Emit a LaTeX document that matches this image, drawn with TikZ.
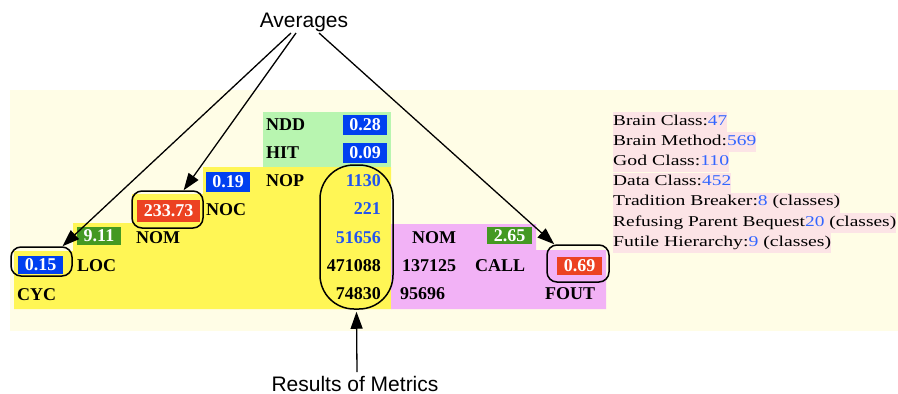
\documentclass[tikz,border=0pt]{standalone}
\usepackage{fontspec}
\setmainfont{Liberation Serif}
\newfontfamily\sansf{Liberation Sans}
\newfontfamily\panelf{Liberation Serif}
\usetikzlibrary{arrows.meta}
\definecolor{pale}{RGB}{255,253,230}
\definecolor{yel}{RGB}{255,246,85}
\definecolor{lgreen}{RGB}{184,245,176}
\definecolor{pinkbg}{RGB}{242,178,246}
\definecolor{boxblue}{RGB}{0,64,240}
\definecolor{boxred}{RGB}{236,66,34}
\definecolor{boxgreen}{RGB}{68,153,34}
\definecolor{tblue}{RGB}{34,85,238}
\definecolor{panelpink}{RGB}{252,228,230}
\definecolor{pblue}{RGB}{51,102,255}
\newcommand{\fitw}[2]{\resizebox{#1}{\height}{#2}}
\tikzset{
  lbl/.style={anchor=base west, inner sep=0pt, font=\fontsize{18}{18}\selectfont\bfseries},
  num/.style={anchor=base east, inner sep=0pt, font=\fontsize{18}{18}\selectfont\bfseries},
  valbox/.style={inner sep=0pt, text=white, font=\fontsize{18}{18}\selectfont\bfseries},
  frame/.style={draw=black, line width=1.5pt, rounded corners=10pt, inner sep=0pt},
  pline/.style={anchor=base west, inner sep=0pt, fill=panelpink, text height=13pt, text depth=7pt, font=\fontsize{15}{15}\panelf},
  arr/.style={line width=1.3pt, -{Triangle[length=17pt,width=12pt]}},
  call/.style={font=\fontsize{21}{21}\sansf, inner sep=0pt}
}
\begin{document}
\begin{tikzpicture}[x=1pt,y=-1pt]
\useasboundingbox (0,0) rectangle (898,394);
% backgrounds
\fill[pale] (10,90) rectangle (898,331);
\fill[yel] (14,309) -- (14,251) -- (73,251) -- (73,223) -- (132,223) -- (132,194) -- (203,194) -- (203,167) -- (391,167) -- (391,309) -- cycle;
\fill[lgreen] (263,112) rectangle (391,167);
\fill[pinkbg] (391,224) -- (536,224) -- (536,250) -- (606,250) -- (606,309) -- (391,309) -- cycle;
% value boxes
\node[valbox, fill=boxblue, minimum width=44pt, minimum height=20pt] (v028) at (365,125) {0.28};
\node[valbox, fill=boxblue, minimum width=44pt, minimum height=20pt] (v009) at (365,153) {0.09};
\node[valbox, fill=boxblue, minimum width=44pt, minimum height=20pt] (v019) at (228,182) {0.19};
\node[valbox, fill=boxred, minimum width=63pt, minimum height=22pt] (v23373) at (168.5,210.5) {233.73};
\node[valbox, fill=boxgreen, minimum width=44pt, minimum height=18pt] (v911) at (99,236) {9.11};
\node[valbox, fill=boxblue, minimum width=45pt, minimum height=18pt] (v015) at (40.5,264.5) {0.15};
\node[valbox, fill=boxgreen, minimum width=45pt, minimum height=17pt] (v265) at (509.5,235.5) {2.65};
\node[valbox, fill=boxred, minimum width=45pt, minimum height=18pt] (v069) at (579.5,265.5) {0.69};
% labels
\node[lbl] (ndd) at (266,130) {NDD};
\node[lbl] (hit) at (266,158) {HIT};
\node[lbl] (nop) at (266,186) {NOP};
\node[lbl] (noc) at (206,215) {NOC};
\node[lbl] (nomL) at (136,243) {NOM};
\node[lbl] (loc) at (77,271) {LOC};
\node[lbl] (cyc) at (17,300) {CYC};
\node[num, text=tblue] (n1130) at (381,186) {1130};
\node[num, text=tblue] (n221) at (381,214) {221};
\node[num, text=tblue] (n51656) at (381,243) {51656};
\node[num] (n471088) at (381,271) {471088};
\node[num] (n74830) at (381,299) {74830};
\node[lbl] (nomR) at (412,243) {NOM};
\node[lbl] (n137125) at (402,271) {137125};
\node[lbl] (callL) at (475,271) {CALL};
\node[lbl] (n95696) at (400,299) {95696};
\node[lbl] (fout) at (545,299) {FOUT};
% frames
\node[frame, minimum width=61pt, minimum height=29pt] (f015) at (41.5,261.5) {};
\node[frame, minimum width=71pt, minimum height=37pt] (f23373) at (167.5,209.5) {};
\node[frame, minimum width=62pt, minimum height=37pt] (f069) at (578,263.5) {};
\node[frame, rounded corners=34pt, minimum width=73pt, minimum height=144pt] (oval) at (356.5,237) {};
% panel
\node[pline] (p1) at (613,125) {\fitw{114pt}{Brain Class:\textcolor{pblue}{47}}};
\node[pline] (p2) at (613,145.2) {\fitw{143pt}{Brain Method:\textcolor{pblue}{569}}\hspace{7pt}};
\node[pline] (p3) at (613,165.4) {\fitw{116pt}{God Class:\textcolor{pblue}{110}}};
\node[pline] (p4) at (613,185.6) {\fitw{118pt}{Data Class:\textcolor{pblue}{452}}};
\node[pline] (p5) at (613,205.8) {\fitw{227pt}{Tradition Breaker:\textcolor{pblue}{8} (classes)}};
\node[pline] (p6) at (613,226) {\fitw{283pt}{Refusing Parent Bequest\textcolor{pblue}{20} (classes)}};
\node[pline] (p7) at (613,246.2) {\fitw{218pt}{Futile Hierarchy:\textcolor{pblue}{9} (classes)}};
% callouts
\node[call, anchor=base] (avg) at (304,27) {Averages};
\coordinate (a1) at (291,33);
\coordinate (a2) at (296,33);
\coordinate (a3) at (319,33);
\draw[arr] (a1) -- (f015.36);
\draw[arr] (a2) -- (f23373.50);
\draw[arr] (a3) -- (f069.141);
\node[call, anchor=base] (res) at (355,391) {Results of Metrics};
\coordinate (r1) at (357,372);
\draw[arr] (r1) -- ([yshift=-2pt]oval.south);
\end{tikzpicture}
\end{document}
